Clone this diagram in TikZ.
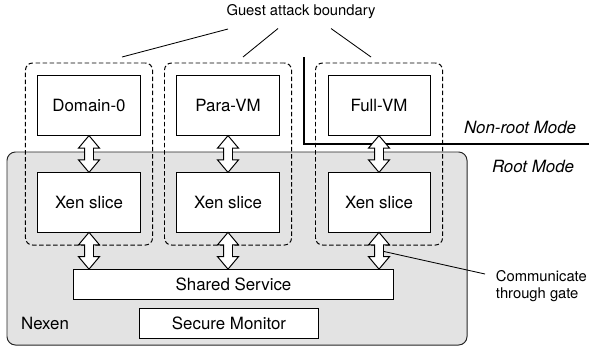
\documentclass[tikz,border=0pt]{standalone}
\usepackage{fontspec}
\setmainfont{TeX Gyre Heros}
\usepackage{tikz}
\usetikzlibrary{shapes.arrows, fit}

\begin{document}
\begin{tikzpicture}[
    x=0.025cm, y=-0.025cm,
    vmbox/.style = {
        draw,
        fill=white,
        line width=0.7pt,
        minimum width=2.55cm,
        minimum height=1.5cm,
        font=\fontsize{12}{14}\selectfont
    },
    srvbox/.style = {
        draw,
        fill=white,
        line width=0.7pt,
        minimum height=0.75cm,
        font=\fontsize{12}{14}\selectfont
    },
    boundary/.style = {
        draw,
        line width=0.7pt,
        dash pattern=on 3.2pt off 1.8pt,
        rounded corners=5pt,
        inner sep=0.3cm,
        fit=#1
    },
    gate/.style = {
        draw,
        fill=white,
        line width=0.7pt,
        double arrow,
        shape border rotate=90,
        inner sep=0.1cm,
        minimum height=0.92cm,
        double arrow head extend=0.15cm,
        double arrow tip angle=80
    },
    nexen/.style = {
        draw=black!85,
        fill=gray!22,
        line width=0.7pt,
        rounded corners=6pt
    },
    split/.style = {line width=1.2pt},
    mode/.style = {font=\fontsize{12}{14}\selectfont\itshape, anchor=east},
    note/.style = {font=\fontsize{10.5}{12}\selectfont},
    pointer/.style = {line width=0.6pt}
]
    \useasboundingbox (0,0) rectangle (589,350);

    % Hypervisor region
    \draw[nexen] (7,152) rectangle (467,345);
    \node[font=\fontsize{12}{14}\selectfont] (nx) at (45,323) {Nexen};

    % Mode border
    \draw[split] (304,57) |- (589,144);
    \node[mode] (nonroot) at (581,127) {Non-root Mode};
    \node[mode] (root) at (579,166) {Root Mode};

    % Guests and their slices
    \node[vmbox] (d0) at (89,105.5) {Domain-0};
    \node[vmbox] (pv) at (228,105.5) {Para-VM};
    \node[vmbox] (fv) at (379,105.5) {Full-VM};
    \node[vmbox] (x0) at (89,202.5) {Xen slice};
    \node[vmbox] (x1) at (228,202.5) {Xen slice};
    \node[vmbox] (x2) at (379,202.5) {Xen slice};

    \node[srvbox, minimum width=8.02cm] (ss) at (233.5,284) {Shared Service};
    \node[srvbox, minimum width=4.45cm] (sm) at (229,323) {Secure Monitor};

    % Attack boundaries
    \node[boundary={(d0)(x0)}] (g0) {};
    \node[boundary={(pv)(x1)}] (g1) {};
    \node[boundary={(fv)(x2)}] (g2) {};

    % Gates
    \path (d0.south) -- (x0.north) node[midway, gate] (ga0) {};
    \path (pv.south) -- (x1.north) node[midway, gate] (ga1) {};
    \path (fv.south) -- (x2.north) node[midway, gate] (ga2) {};
    \path (x0.south) -- (x0.south |- ss.north) node[midway, gate] (gb0) {};
    \path (x1.south) -- (x1.south |- ss.north) node[midway, gate] (gb1) {};
    \path (x2.south) -- (x2.south |- ss.north) node[midway, gate] (gb2) {};

    % Labels
    \node[note] (guest) at (301,12) {Guest attack boundary};
    \coordinate (b0) at (228,29);
    \coordinate (b1) at (278,28.5);
    \coordinate (b2) at (331,28.5);
    \draw[pointer] (b0) -- (122,57);
    \draw[pointer] (b1) -- (243,57);
    \draw[pointer] (b2) -- (371,57);

    \node[note, anchor=west, align=left] (gtxt) at (491,286) {Communicate\\through gate};
    \coordinate (gp) at (384,251.5);
    \coordinate (gq) at (485,274);
    \draw[pointer] (gp) -- (gq);

\end{tikzpicture}
\end{document}
